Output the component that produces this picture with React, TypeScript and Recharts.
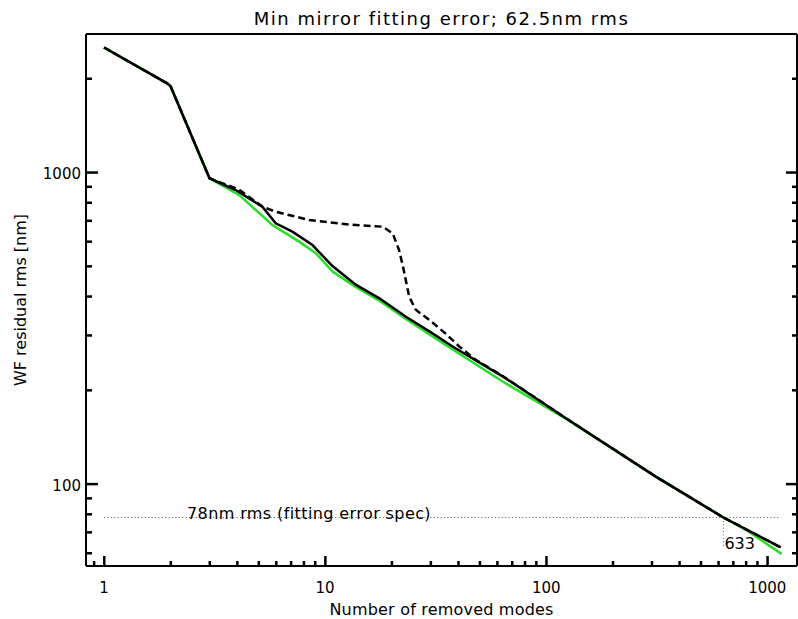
import React from 'react';
import { LineChart, Line, XAxis, YAxis, ReferenceLine } from 'recharts';

const FONT = '"DejaVu Sans", sans-serif';

// number of removed modes vs WF residual rms [nm]
const modesSolid = [1, 1.93, 2, 3, 3.94, 5.2, 5.98, 7.11, 8.76, 10.8, 13.8, 17.6, 23.2, 30.6, 37.7, 65.7, 122.7, 313, 633, 1150];
const rmsSolid = [2515, 1930, 1890, 957, 877, 776, 686, 645, 584, 500, 435, 394, 344, 304, 276, 218, 162.5, 105.5, 78, 62.5];

const modesGreen = [1, 1.93, 2, 3, 4.08, 5.78, 7.63, 9.08, 10.8, 13.8, 17.6, 23.2, 30.6, 63.5, 122.7, 313, 633, 800, 1160];
const rmsGreen = [2515, 1930, 1890, 957, 846, 677, 599, 550, 480, 428, 387, 338, 297, 213, 162, 105.5, 78, 71.2, 59.6];

const modesDashed = [1, 1.93, 2, 3, 4.08, 5.2, 5.98, 8.47, 12.84, 18.2, 20.2, 21.6, 22.5, 24, 25.7, 29.6, 35, 40.4, 48, 61, 70, 122.7, 313, 633, 1150];
const rmsDashed = [2515, 1930, 1890, 957, 880, 776, 747, 703, 680, 669, 637, 563, 498, 399, 362, 336, 304, 276, 250, 226, 212, 162.5, 105.5, 78, 62.5];

const specRms = 78;
const specModes = [1, 1150];
const specCrossing = 633;
const finalRms = 62.5;

const xTicks = [0.9, 1, 2, 3, 4, 5, 6, 7, 8, 9, 10, 20, 30, 40, 50, 60, 70, 80, 90, 100, 200, 300, 400, 500, 600, 700, 800, 900, 1000];
const xLabelled = [1, 10, 100, 1000];
const yTicks = [60, 70, 80, 90, 100, 200, 300, 400, 500, 600, 700, 800, 900, 1000, 2000];
const yLabelled = [100, 1000];

const toPoints = (xs: number[], ys: number[]) => xs.map((x, i) => ({ x, y: ys[i] }));
const solidData = toPoints(modesSolid, rmsSolid);
const greenData = toPoints(modesGreen, rmsGreen);
const dashedData = toPoints(modesDashed, rmsDashed);

const TICK_COLOR = '#000';

// bottom axis: inward tick mark + decade label
const tickBottom = (props: any) => {
  const { x, y, payload } = props;
  const major = xLabelled.includes(payload.value);
  const len = major ? 10 : 5;
  return (
    <g>
      <rect x={x - 1} y={y - len} width={2.5} height={len} fill={TICK_COLOR} />
      {major && (
        <text x={x} y={y + 27} textAnchor="middle" fontSize={15} fontFamily={FONT} fill="#000">
          {payload.value}
        </text>
      )}
    </g>
  );
};

const tickTop = (props: any) => {
  const { x, y, payload } = props;
  const len = xLabelled.includes(payload.value) ? 10 : 5;
  return <rect x={x - 1} y={y} width={2.5} height={len} fill={TICK_COLOR} />;
};

const tickLeft = (props: any) => {
  const { x, y, payload } = props;
  const major = yLabelled.includes(payload.value);
  const len = major ? 12 : 6;
  return (
    <g>
      <rect x={x} y={y - 1} width={len} height={2.5} fill={TICK_COLOR} />
      {major && (
        <text x={x - 5} y={y + 7} textAnchor="end" fontSize={15} fontFamily={FONT} fill="#000">
          {payload.value}
        </text>
      )}
    </g>
  );
};

const tickRight = (props: any) => {
  const { x, y, payload } = props;
  const len = yLabelled.includes(payload.value) ? 11 : 5;
  return <rect x={x - len} y={y - 1} width={len} height={2.5} fill={TICK_COLOR} />;
};

const xDomain = [0.829, 1362];
const yDomain = [54.5, 2779];
const frame = { stroke: '#000', strokeWidth: 2 };

export default function App() {
  return (
    <div style={{ position: 'absolute', left: 0, top: 0 }}>
      <LineChart width={798} height={619} margin={{ top: 33, right: 0, bottom: 0, left: 0 }} style={{ fontFamily: FONT }}>
        <XAxis
          xAxisId="b"
          dataKey="x"
          type="number"
          scale="log"
          domain={xDomain}
          allowDataOverflow
          ticks={xTicks}
          interval={0}
          height={53}
          tickSize={0}
          tickMargin={0}
          tickLine={false}
          tick={tickBottom}
          axisLine={frame}
          label={{
            value: 'Number of removed modes',
            position: 'insideBottom',
            offset: 4,
            fontSize: 16,
            fill: '#000',
            style: { fontFamily: FONT, letterSpacing: '0.2px' },
          }}
        />
        <XAxis
          xAxisId="t"
          orientation="top"
          type="number"
          scale="log"
          domain={xDomain}
          allowDataOverflow
          ticks={xTicks}
          interval={0}
          height={1}
          tickSize={0}
          tickMargin={0}
          tickLine={false}
          tick={tickTop}
          axisLine={frame}
          label={{
            value: 'Min mirror fitting error; 62.5nm rms',
            position: 'top',
            offset: 8,
            fontSize: 18,
            fill: '#000',
            style: { fontFamily: FONT, letterSpacing: '1.5px' },
          }}
        />
        <YAxis
          yAxisId="l"
          type="number"
          scale="log"
          domain={yDomain}
          allowDataOverflow
          ticks={yTicks}
          interval={0}
          width={86}
          tickSize={0}
          tickMargin={0}
          tickLine={false}
          tick={tickLeft}
          axisLine={frame}
          label={{
            value: 'WF residual rms [nm]',
            position: 'insideLeft',
            offset: 20,
            angle: -90,
            fontSize: 16,
            fill: '#000',
            style: { fontFamily: FONT, textAnchor: 'middle' },
          }}
        />
        <YAxis
          yAxisId="r"
          orientation="right"
          type="number"
          scale="log"
          domain={yDomain}
          allowDataOverflow
          ticks={yTicks}
          interval={0}
          width={1}
          tickSize={0}
          tickMargin={0}
          tickLine={false}
          tick={tickRight}
          axisLine={frame}
        />

        <ReferenceLine
          xAxisId="b"
          yAxisId="l"
          segment={[{ x: specModes[0], y: specRms }, { x: specModes[1], y: specRms }]}
          stroke="#555"
          strokeWidth={1}
          strokeDasharray="1 2.4"
          label={(p: any) => (
            <text x={p.viewBox.x + 83} y={p.viewBox.y + 1.5} fontSize={16} fontFamily={FONT} fill="#000" style={{ letterSpacing: '0.4px' }}>
              78nm rms (fitting error spec)
            </text>
          )}
        />
        <ReferenceLine
          xAxisId="b"
          yAxisId="l"
          segment={[{ x: specCrossing, y: specRms }, { x: specCrossing, y: finalRms }]}
          stroke="#555"
          strokeWidth={1}
          strokeDasharray="1 2.4"
          label={(p: any) => (
            <text x={p.viewBox.x + 1} y={p.viewBox.y + p.viewBox.height + 2} fontSize={16} fontFamily={FONT} fill="#000">
              {specCrossing}
            </text>
          )}
        />

        <Line xAxisId="b" yAxisId="l" data={greenData} dataKey="y" type="linear" stroke="#22e022" strokeWidth={2.5} dot={false} isAnimationActive={false} />
        <Line xAxisId="b" yAxisId="l" data={dashedData} dataKey="y" type="linear" stroke="#000" strokeWidth={2.5} strokeDasharray="7 4" dot={false} isAnimationActive={false} />
        <Line xAxisId="b" yAxisId="l" data={solidData} dataKey="y" type="linear" stroke="#000" strokeWidth={2.5} dot={false} isAnimationActive={false} />
      </LineChart>
    </div>
  );
}
